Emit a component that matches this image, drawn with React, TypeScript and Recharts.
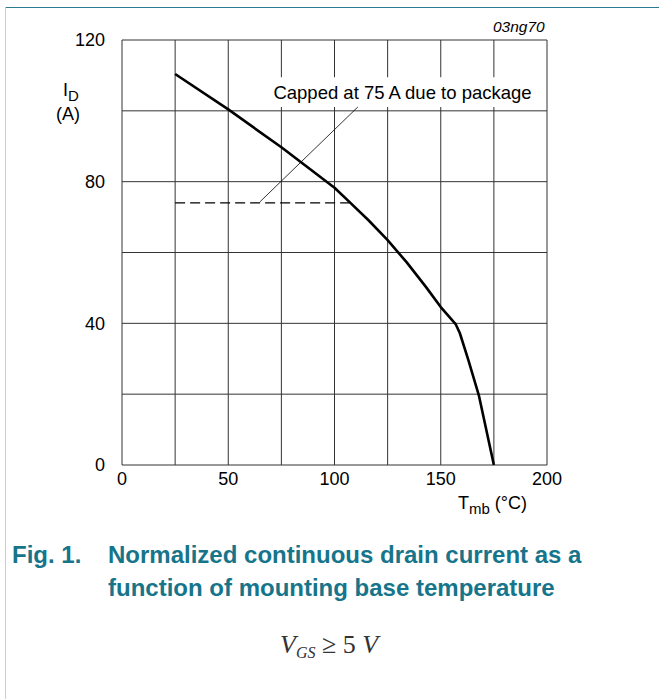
import React from "react";
import { LineChart, Line, XAxis, YAxis, CartesianGrid, ReferenceArea, ReferenceLine } from "recharts";

// derating curve
const tmb = [25, 50, 75, 100, 107, 116, 125, 134, 143, 150, 157, 159, 163, 168, 175];
const idA = [110.4, 100.4, 89.7, 78.3, 74.3, 69.1, 63.5, 57.2, 50.3, 44.6, 39.8, 37.2, 29.6, 19.5, 0];

// package cap (dashed)
const capT = [25, 107];
const capI = 74;

const xTicks = [0, 25, 50, 75, 100, 125, 150, 175, 200];
const yTicks = [0, 20, 40, 60, 80, 100, 120];

const curve = tmb.map((t, i) => ({ t, id: idA[i] }));
const cap = capT.map((t) => ({ t, id: capI }));

const sans = "'Liberation Sans', Arial, sans-serif";
const teal = "#16758a";

export default function App() {
  return (
    <div style={{ position: "absolute", left: 0, top: 0, width: 659, height: 699, background: "#fff", fontFamily: sans, overflow: "hidden" }}>
      <div style={{ position: "absolute", left: 5, top: 7, width: 654, height: 1, background: "#2a7a90" }} />
      <div style={{ position: "absolute", left: 5, top: 7, width: 1, height: 692, background: "#b3d5df" }} />

      <LineChart width={659} height={500} margin={{ top: 40, right: 112, bottom: 5, left: 62 }} style={{ position: "absolute", left: 0, top: 0 }}>
        <CartesianGrid stroke="#333" strokeWidth={1} />
        <XAxis
          type="number"
          dataKey="t"
          domain={[0, 200]}
          ticks={xTicks}
          tickFormatter={(v) => (v % 50 === 0 ? String(v) : "")}
          axisLine={false}
          tickLine={false}
          tickSize={0}
          tickMargin={7}
          height={30}
          tick={{ fill: "#000", fontSize: 18, fontFamily: sans }}
          allowDuplicatedCategory={false}
        />
        <YAxis
          type="number"
          domain={[0, 120]}
          ticks={yTicks}
          tickFormatter={(v) => (v % 40 === 0 ? String(v) : "")}
          axisLine={false}
          tickLine={false}
          tickSize={0}
          tickMargin={17}
          width={60}
          tick={{ fill: "#000", fontSize: 18, fontFamily: sans }}
        />
        <ReferenceArea
          x1={67.3}
          x2={196.7}
          y1={101.1}
          y2={109.5}
          fill="#fff"
          fillOpacity={1}
          stroke="none"
          label={{ value: "Capped at 75 A due to package", position: "center", fill: "#000", fontSize: 18.5, fontFamily: sans }}
        />
        <ReferenceLine
          segment={[{ x: 64.9, y: 74.3 }, { x: 111, y: 101.1 }]}
          stroke="#000"
          strokeWidth={0.8}
        />
        <Line data={cap} dataKey="id" type="linear" stroke="#000" strokeWidth={1.2} strokeDasharray="10 5" dot={false} isAnimationActive={false} />
        <Line data={curve} dataKey="id" type="linear" stroke="#000" strokeWidth={2.6} strokeLinejoin="round" dot={false} isAnimationActive={false} />
      </LineChart>

      <div style={{ position: "absolute", left: 493, top: 18, fontSize: 15.5, fontStyle: "italic", color: "#000" }}>03ng70</div>

      <div style={{ position: "absolute", left: 63, top: 80, fontSize: 18, color: "#000", lineHeight: "20px" }}>
        I<sub style={{ fontSize: 15, verticalAlign: "-5px" }}>D</sub>
      </div>
      <div style={{ position: "absolute", left: 56, top: 104, fontSize: 18, color: "#000", lineHeight: "20px" }}>(A)</div>

      <div style={{ position: "absolute", left: 458, top: 493, fontSize: 18, color: "#000", whiteSpace: "nowrap", lineHeight: "20px" }}>
        T<sub style={{ fontSize: 15, verticalAlign: "-5px" }}>mb</sub> (°C)
      </div>

      <div style={{ position: "absolute", left: 12, top: 538, fontSize: 24, fontWeight: "bold", color: teal, whiteSpace: "nowrap", lineHeight: "33px" }}>
        Fig. 1.
      </div>
      <div style={{ position: "absolute", left: 108, top: 538, fontSize: 24, fontWeight: "bold", color: teal, whiteSpace: "nowrap", lineHeight: "33px" }}>
        Normalized continuous drain current as a
        <br />
        function of mounting base temperature
      </div>

      <div style={{ position: "absolute", left: 280, top: 630, fontSize: 26, fontFamily: "'Liberation Serif', 'Times New Roman', serif", color: "#333", whiteSpace: "nowrap", lineHeight: "30px" }}>
        <i>V</i>
        <sub style={{ fontSize: 16, fontStyle: "italic", verticalAlign: "-5px" }}>GS</sub> ≥ 5 <i>V</i>
      </div>
    </div>
  );
}
